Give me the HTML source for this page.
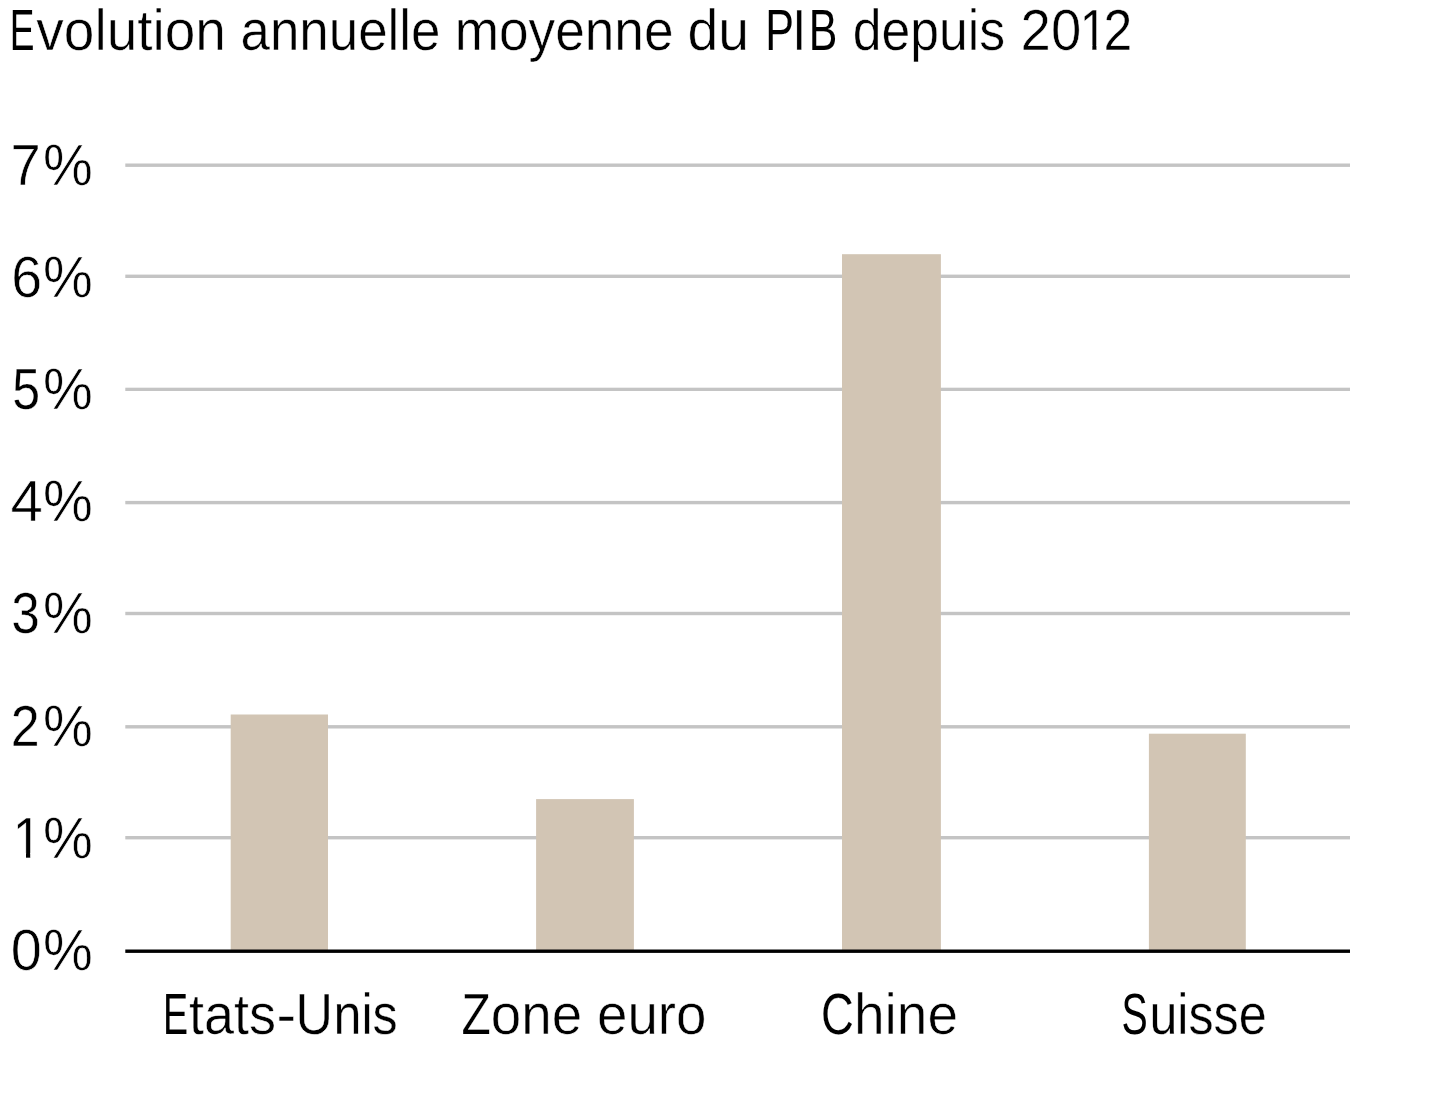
<!DOCTYPE html>
<html lang="fr">
<head>
<meta charset="utf-8">
<title>Evolution annuelle moyenne du PIB depuis 2012</title>
<style>
  html, body { margin: 0; padding: 0; background: #ffffff; }
  body { width: 1441px; height: 1108px; overflow: hidden; }
  svg { display: block; will-change: transform; }
  text { font-family: "Liberation Sans", sans-serif; font-size: 57px; fill: #000000;
         stroke: #ffffff; stroke-width: 0.5px; paint-order: fill stroke; }
  .grid rect { fill: #c4c4c4; }
  .bars rect { fill: #d2c5b4; }
</style>
</head>
<body>
<svg width="1441" height="1108" viewBox="0 0 1441 1108" role="img" aria-label="Evolution annuelle moyenne du PIB depuis 2012">
  <desc>Histogramme. Axe vertical : 7%, 6%, 5%, 4%, 3%, 2%, 1%, 0%. Catégories : Etats-Unis, Zone euro, Chine, Suisse.</desc>
  <rect x="0" y="0" width="1441" height="1108" fill="#ffffff"/>
  <defs>
    <clipPath id="one0"><rect x="1082.90" y="6.78" width="14.50" height="38.26"/><rect x="1092.37" y="44.54" width="4.03" height="7.46"/></clipPath>
    <clipPath id="one1"><rect x="16.20" y="814.48" width="15.00" height="38.26"/><rect x="25.99" y="852.24" width="4.21" height="7.46"/></clipPath>
  </defs>
  <!-- horizontal gridlines 7% .. 1% -->
  <g class="grid">
    <rect x="125.3" y="163.5" width="1224.7" height="3.4"/>
    <rect x="125.3" y="274.6" width="1224.7" height="3.4"/>
    <rect x="125.3" y="387.7" width="1224.7" height="3.3"/>
    <rect x="125.3" y="500.9" width="1224.7" height="3.4"/>
    <rect x="125.3" y="611.8" width="1224.7" height="3.4"/>
    <rect x="125.3" y="725.1" width="1224.7" height="3.4"/>
    <rect x="125.3" y="836.0" width="1224.7" height="3.4"/>
  </g>

  <!-- bars: Etats-Unis, Zone euro, Chine, Suisse -->
  <g class="bars">
    <rect x="230.7" y="714.5" width="97.3" height="236"/>
    <rect x="536.1" y="799.1" width="97.8" height="152"/>
    <rect x="842.0" y="254.2" width="98.9" height="697"/>
    <rect x="1148.9" y="733.7" width="96.9" height="217"/>
  </g>

  <!-- zero axis -->
  <rect x="125.3" y="949.5" width="1224.7" height="3.4" fill="#000000"/>
  <!-- chart title -->
  <g class="title">
    <g><text y="50.0"><tspan x="9.74" textLength="24.68" lengthAdjust="spacingAndGlyphs" stroke-width="0.02">E</tspan><tspan x="36.35" textLength="189.58" lengthAdjust="spacingAndGlyphs" stroke-width="0.56">volution</tspan></text></g>
    <text x="240.47" y="50.0" textLength="200.06" lengthAdjust="spacingAndGlyphs" stroke-width="0.47">annuelle</text>
    <text x="454.73" y="50.0" textLength="218.78" lengthAdjust="spacingAndGlyphs" stroke-width="0.48">moyenne</text>
    <text x="687.53" y="50.0" textLength="61.47" lengthAdjust="spacingAndGlyphs" stroke-width="0.57">du</text>
    <g><text y="50.0"><tspan x="765.18" textLength="28.68" lengthAdjust="spacingAndGlyphs" stroke-width="0.04">P</tspan><tspan x="792.26" textLength="13.97" lengthAdjust="spacingAndGlyphs" stroke-width="0.36">I</tspan><tspan x="808.73" textLength="28.60" lengthAdjust="spacingAndGlyphs" stroke-width="0.03">B</tspan></text></g>
    <text x="852.81" y="50.0" textLength="152.36" lengthAdjust="spacingAndGlyphs" stroke-width="0.42">depuis</text>
    <g><text y="50.0"><tspan x="1020.60" textLength="60.62" lengthAdjust="spacingAndGlyphs" stroke-width="0.54">20</tspan></text><text x="1079.58" y="50.0" textLength="27.85" lengthAdjust="spacingAndGlyphs" stroke-width="0.35" clip-path="url(#one0)">1</text><text y="50.0"><tspan x="1103.61" textLength="28.75" lengthAdjust="spacingAndGlyphs" stroke-width="0.42">2</tspan></text></g>
  </g>

  <!-- y axis labels -->
  <g class="ylabels">
    <g><text y="184.5"><tspan x="10.59" textLength="30.22" lengthAdjust="spacingAndGlyphs" stroke-width="0.53">7</tspan><tspan x="43.03" textLength="49.85" lengthAdjust="spacingAndGlyphs" stroke-width="0.61">%</tspan></text></g>
    <g><text y="296.7"><tspan x="11.17" textLength="30.90" lengthAdjust="spacingAndGlyphs" stroke-width="0.59">6</tspan><tspan x="43.03" textLength="49.85" lengthAdjust="spacingAndGlyphs" stroke-width="0.61">%</tspan></text></g>
    <g><text y="408.9"><tspan x="12.37" textLength="27.82" lengthAdjust="spacingAndGlyphs" stroke-width="0.34">5</tspan><tspan x="43.03" textLength="49.85" lengthAdjust="spacingAndGlyphs" stroke-width="0.61">%</tspan></text></g>
    <g><text y="521.1"><tspan x="10.52" textLength="32.42" lengthAdjust="spacingAndGlyphs" stroke-width="0.70">4</tspan><tspan x="43.03" textLength="49.85" lengthAdjust="spacingAndGlyphs" stroke-width="0.61">%</tspan></text></g>
    <g><text y="633.3"><tspan x="11.62" textLength="28.13" lengthAdjust="spacingAndGlyphs" stroke-width="0.37">3</tspan><tspan x="43.03" textLength="49.85" lengthAdjust="spacingAndGlyphs" stroke-width="0.61">%</tspan></text></g>
    <g><text y="745.5"><tspan x="10.85" textLength="28.96" lengthAdjust="spacingAndGlyphs" stroke-width="0.43">2</tspan><tspan x="43.03" textLength="49.85" lengthAdjust="spacingAndGlyphs" stroke-width="0.61">%</tspan></text></g>
    <g><text x="12.69" y="857.7" textLength="28.99" lengthAdjust="spacingAndGlyphs" stroke-width="0.44" clip-path="url(#one1)">1</text><text y="857.7"><tspan x="43.03" textLength="49.85" lengthAdjust="spacingAndGlyphs" stroke-width="0.61">%</tspan></text></g>
    <g><text y="969.9"><tspan x="10.72" textLength="31.09" lengthAdjust="spacingAndGlyphs" stroke-width="0.60">0</tspan><tspan x="43.03" textLength="49.85" lengthAdjust="spacingAndGlyphs" stroke-width="0.61">%</tspan></text></g>
  </g>

  <!-- x axis labels -->
  <g class="xlabels">
    <g><text y="1033.8"><tspan x="162.92" textLength="25.07" lengthAdjust="spacingAndGlyphs" stroke-width="0.02">E</tspan><tspan x="189.09" textLength="87.05" lengthAdjust="spacingAndGlyphs" stroke-width="0.52">tats</tspan><tspan x="276.27" textLength="20.23" lengthAdjust="spacingAndGlyphs" stroke-width="0.70">-</tspan><tspan x="295.41" textLength="37.46" lengthAdjust="spacingAndGlyphs" stroke-width="0.43">U</tspan><tspan x="333.47" textLength="64.21" lengthAdjust="spacingAndGlyphs" stroke-width="0.35">nis</tspan></text></g>
    <g><text y="1033.8"><tspan x="461.55" textLength="29.25" lengthAdjust="spacingAndGlyphs" stroke-width="0.25">Z</tspan><tspan x="490.77" textLength="91.32" lengthAdjust="spacingAndGlyphs" stroke-width="0.55">one</tspan><tspan> </tspan><tspan x="596.99" textLength="109.51" lengthAdjust="spacingAndGlyphs" stroke-width="0.55">euro</tspan></text></g>
    <g><text y="1033.8"><tspan x="820.91" textLength="32.75" lengthAdjust="spacingAndGlyphs" stroke-width="0.14">C</tspan><tspan x="853.99" textLength="104.13" lengthAdjust="spacingAndGlyphs" stroke-width="0.57">hine</tspan></text></g>
    <g><text y="1033.8"><tspan x="1121.39" textLength="26.20" lengthAdjust="spacingAndGlyphs" stroke-width="0.02">S</tspan><tspan x="1149.40" textLength="117.18" lengthAdjust="spacingAndGlyphs" stroke-width="0.35">uisse</tspan></text></g>
  </g>
</svg>
</body>
</html>
